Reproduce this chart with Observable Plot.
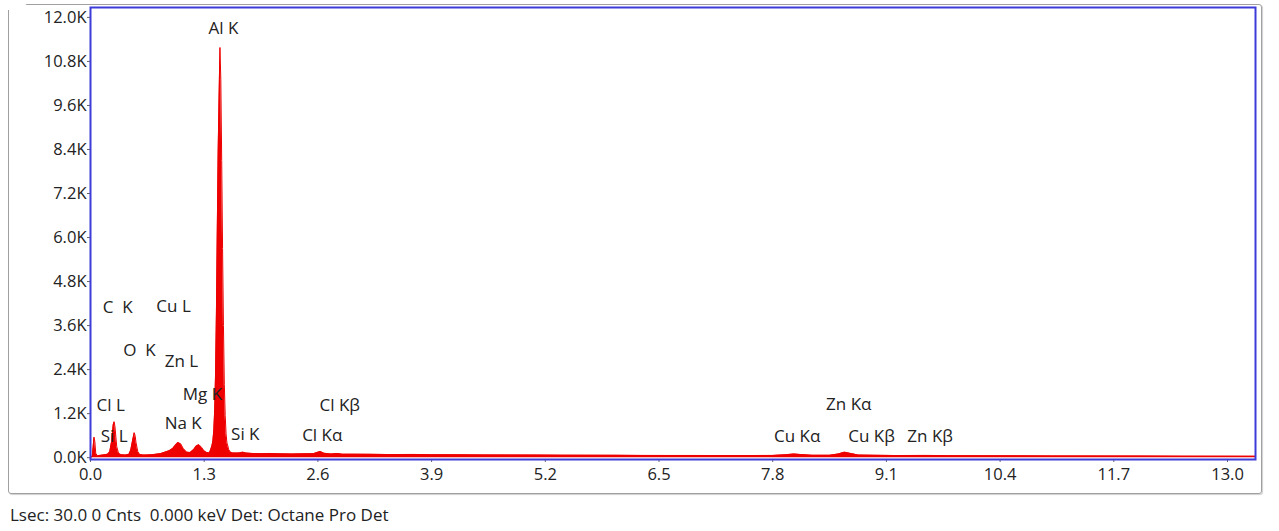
<!DOCTYPE html>
<html>
<head>
<meta charset="utf-8">
<script src="https://cdn.jsdelivr.net/npm/d3@7"></script>
<script src="https://cdn.jsdelivr.net/npm/@observablehq/plot@0.6"></script>
<style>
  body { margin: 0; background: #fff; }
  #wrap { position: relative; width: 1279px; height: 531px; overflow: hidden; }
  #border { position: absolute; left: 8px; top: 4px; width: 1254px; height: 490px; border: 1px solid #a0a0a0; border-radius: 3px; box-sizing: border-box; box-shadow: 1px 1px 1px #d0d0d0; }
  #chart { position: absolute; left: 0; top: 0; }
  #caption { position: absolute; left: 10px; top: 503px; font-family: "Open Sans", sans-serif; font-size: 17px; color: #222; white-space: pre; }
</style>
</head>
<body>
<div id="wrap">
  <div id="border"></div>
  <div id="chart"></div>
  <div id="caption">Lsec: 30.0 0 Cnts  0.000 keV Det: Octane Pro Det</div>
</div>
<script>
// Spectrum: energy (keV) and counts
const energy = [
  0.00, 0.02, 0.03, 0.04, 0.05, 0.06, 0.08, 0.10, 0.14, 0.18, 0.20, 0.22, 0.24, 0.25, 0.26, 0.27, 0.28, 0.29, 0.30, 0.32,
  0.35, 0.40, 0.44, 0.46, 0.48, 0.50, 0.51, 0.52, 0.54, 0.56, 0.60, 0.65, 0.70, 0.75, 0.80, 0.85, 0.90, 0.94, 0.97, 1.00,
  1.03, 1.06, 1.10, 1.14, 1.18, 1.21, 1.24, 1.27, 1.30, 1.33, 1.36, 1.38, 1.39, 1.40, 1.41, 1.42, 1.43, 1.44, 1.45, 1.46,
  1.47, 1.48, 1.49, 1.50, 1.51, 1.52, 1.53, 1.54, 1.55, 1.56, 1.57, 1.58, 1.60, 1.62, 1.66, 1.70, 1.74, 1.78, 1.85, 1.95,
  2.05, 2.15, 2.30, 2.45, 2.55, 2.60, 2.63, 2.67, 2.75, 2.82, 2.88, 3.00, 3.20, 3.40, 3.70, 3.90, 4.20, 4.50, 4.80, 5.10,
  5.40, 5.70, 6.00, 6.30, 6.60, 6.90, 7.20, 7.50, 7.80, 7.95, 8.04, 8.12, 8.25, 8.45, 8.55, 8.62, 8.68, 8.78, 8.95, 9.20,
  9.55, 9.80, 10.20, 10.60, 11.00, 11.50, 12.00, 12.50, 13.00, 13.32
];
const counts = [
  0, 40, 280, 560, 430, 120, 45, 60, 70, 85, 100, 160, 420, 650, 900, 980, 840, 560, 300, 120,
  80, 70, 90, 200, 450, 680, 600, 420, 170, 90, 70, 75, 80, 95, 110, 150, 190, 250, 340, 410,
  380, 250, 150, 140, 220, 320, 355, 280, 180, 140, 130, 260, 340, 470, 750, 1300, 2300, 4000, 6300, 8400,
  9800, 11180, 10300, 8100, 5700, 3600, 2000, 1150, 650, 400, 320, 220, 150, 130, 125, 130, 150, 125, 115, 110,
  115, 105, 100, 105, 110, 150, 165, 120, 100, 115, 95, 95, 90, 85, 88, 80, 78, 75, 72, 70,
  68, 66, 64, 62, 60, 60, 58, 58, 62, 80, 100, 85, 65, 65, 100, 150, 120, 70, 65, 58,
  62, 55, 52, 50, 48, 46, 44, 42, 40, 38
];

// Peak labels
const labelText = ["Al K", "C\u00a0\u00a0K", "Cu L", "O\u00a0\u00a0K", "Zn L", "Mg K", "Cl L", "Si L", "Na K", "Si K",
                   "Cl K\u03b2", "Cl K\u03b1", "Zn K\u03b1", "Cu K\u03b1", "Cu K\u03b2", "Zn K\u03b2"];
const labelEnergy = [1.52, 0.31, 0.95, 0.56, 1.04, 1.28, 0.23, 0.27, 1.06, 1.77, 2.85, 2.65, 8.67, 8.08, 8.93, 9.60];
const labelCounts = [11700, 4090, 4120, 2920, 2620, 1720, 1420, 577, 930, 630, 1420, 600, 1450, 577, 577, 577];

// Tick values
const xTicks = [0, 1.3, 2.6, 3.9, 5.2, 6.5, 7.8, 9.1, 10.4, 11.7, 13.0];
const yTicks = [0, 1200, 2400, 3600, 4800, 6000, 7200, 8400, 9600, 10800, 12000];

const spectrum = energy.map((e, i) => ({e, c: counts[i]}));
const labels = labelText.map((t, i) => ({t, e: labelEnergy[i], c: labelCounts[i]}));

const blue = "#3c3cd8";
const red = "#ee0000";

const chart = Plot.plot({
  width: 1279,
  height: 500,
  marginLeft: 90,
  marginRight: 24,
  marginTop: 7,
  marginBottom: 41,
  style: {fontFamily: "'Open Sans', sans-serif", fontSize: "16.5px", color: "#222", background: "transparent"},
  x: {domain: [0, 13.32]},
  y: {domain: [-50, 12270]},
  marks: [
    Plot.areaY(spectrum, {x: "e", y: "c", fill: red, curve: "linear"}),
    Plot.lineY(spectrum, {x: "e", y: "c", stroke: red, strokeWidth: 1, curve: "linear"}),
    Plot.text(labels, {x: "e", y: "c", text: "t", fill: "#222", fontSize: 17, textAnchor: "middle"}),
    Plot.axisX({ticks: xTicks, tickFormat: d => d.toFixed(1), tickSize: 3, tickPadding: 6, label: null, stroke: "#666", fontSize: 16.5}),
    Plot.axisY({ticks: yTicks, tickFormat: d => (d / 1000).toFixed(1) + "K", tickSize: 3, tickPadding: 1, label: null, stroke: "#666", fontSize: 16.5}),
    Plot.frame({stroke: blue, strokeWidth: 2})
  ]
});

document.getElementById("chart").appendChild(chart);

// semi-transparent white boxes behind the peak labels
chart.querySelectorAll('g[aria-label="text"] text').forEach(t => {
  const b = t.getBBox();
  const r = document.createElementNS("http://www.w3.org/2000/svg", "rect");
  r.setAttribute("x", b.x - 2);
  r.setAttribute("y", b.y + 1);
  r.setAttribute("width", b.width + 4);
  r.setAttribute("height", b.height - 2);
  r.setAttribute("fill", "white");
  r.setAttribute("fill-opacity", "0.62");
  t.parentNode.insertBefore(r, t);
});
</script>
</body>
</html>
